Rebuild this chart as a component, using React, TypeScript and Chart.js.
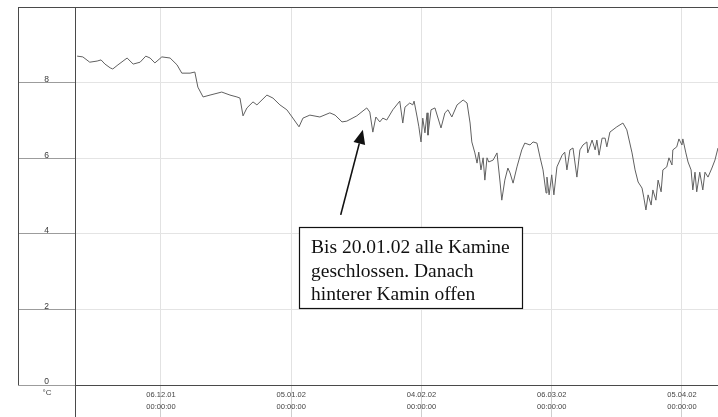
import { useEffect, useRef } from "react";
import { Chart, registerables } from "chart.js";

Chart.register(...registerables);

// Days relative to 06.12.01 00:00:00
const dayOffsets = [
  -19.3, -18.0, -16.4, -14.7, -13.8, -12.9, -11.7, -11.1, -9.9, -7.8,
  -6.4, -4.8, -3.5, -2.5, -1.4, 0.2, 2.1, 3.7, 4.8, 6.7,
  7.8, 8.5, 9.7, 11.3, 14.0, 15.9, 17.5, 18.2, 18.9, 19.8,
  21.2, 22.1, 24.4, 25.8, 27.4, 29.0, 30.2, 31.8, 32.7, 34.3,
  36.6, 38.9, 40.1, 41.7, 42.8, 45.1, 47.4, 48.1, 48.8, 49.5,
  50.4, 51.1, 52.0, 53.4, 55.0, 55.7, 56.2, 57.3, 58.0, 58.3,
  59.0, 59.4, 59.9, 60.3, 60.8, 61.3, 61.5, 62.2, 63.1, 64.5,
  65.4, 66.1, 67.0, 68.2, 69.6, 70.5, 71.2, 71.6, 72.3, 72.8,
  73.2, 73.7, 74.2, 74.6, 75.1, 75.5, 76.5, 77.4, 78.1, 78.5,
  79.2, 79.9, 80.4, 81.1, 82.0, 83.1, 83.8, 85.0, 85.7, 86.6,
  87.3, 88.0, 88.7, 88.9, 89.4, 90.0, 90.5, 91.2, 92.4, 93.0,
  93.5, 94.2, 94.9, 95.8, 96.5, 97.2, 98.1, 98.3, 99.3, 100.0,
  100.4, 100.9, 101.6, 102.3, 102.7, 103.4, 105.0, 106.4, 107.3, 108.5,
  109.2, 109.9, 110.8, 111.2, 111.7, 112.2, 112.9, 113.3, 114.0, 114.5,
  115.2, 115.6, 116.5, 117.0, 117.7, 117.9, 118.8, 119.3, 120.0, 120.2,
  120.9, 121.4, 122.1, 122.5, 123.0, 123.4, 124.1, 124.8, 125.3, 126.0,
  126.9, 127.6, 128.3,
];

// Temperature in °C
const temperatures = [
  8.70, 8.68, 8.54, 8.57, 8.60, 8.49, 8.39, 8.36, 8.47, 8.65,
  8.49, 8.54, 8.70, 8.65, 8.52, 8.68, 8.65, 8.47, 8.25, 8.25,
  8.28, 7.88, 7.62, 7.67, 7.75, 7.67, 7.62, 7.59, 7.12, 7.33,
  7.49, 7.41, 7.67, 7.59, 7.41, 7.28, 7.09, 6.83, 7.06, 7.14,
  7.09, 7.20, 7.14, 6.96, 6.98, 7.12, 7.33, 7.22, 6.69, 7.09,
  6.96, 7.06, 7.01, 7.28, 7.51, 6.93, 7.35, 7.46, 7.41, 7.51,
  7.09, 6.83, 6.43, 7.06, 6.67, 7.20, 6.61, 7.28, 7.33, 6.80,
  7.20, 7.28, 7.09, 7.41, 7.54, 7.46, 6.93, 6.43, 6.14, 5.87,
  6.16, 5.69, 6.01, 5.42, 6.01, 5.90, 5.95, 6.14, 5.37, 4.89,
  5.42, 5.74, 5.61, 5.34, 5.77, 6.22, 6.40, 6.35, 6.43, 6.40,
  6.03, 5.69, 5.08, 5.50, 5.03, 5.56, 5.03, 5.77, 6.08, 6.16,
  5.69, 6.22, 6.27, 5.50, 6.22, 6.35, 6.43, 6.14, 6.48, 6.22,
  6.48, 6.08, 6.53, 6.53, 6.30, 6.69, 6.83, 6.93, 6.75, 6.14,
  5.69, 5.37, 5.21, 4.97, 4.63, 5.03, 4.76, 5.16, 4.89, 5.42,
  5.11, 5.69, 5.77, 6.01, 5.82, 6.22, 6.30, 6.51, 6.35, 6.51,
  6.14, 5.90, 5.69, 5.16, 5.63, 5.11, 5.63, 5.16, 5.63, 5.50,
  5.74, 5.95, 6.27,
];

const tickDays = [0, 30, 60, 90, 120];
const tickDates = ["06.12.01", "05.01.02", "04.02.02", "06.03.02", "05.04.02"];
const tickTimes = ["00:00:00", "00:00:00", "00:00:00", "00:00:00", "00:00:00"];
const tempTicks = [0, 2, 4, 6, 8, 10];
const unitLabel = "°C";
const noteLines = [
  "Bis 20.01.02 alle Kamine",
  "geschlossen. Danach",
  "hinterer Kamin offen",
];

const WIDTH = 718;
const HEIGHT = 417;
const FRAME_LEFT = 18;

// Outer frame lines, the axis stub below the plot and the unit label
const framePlugin = {
  id: "frame",
  afterDraw(chart: any) {
    const { ctx, chartArea } = chart;
    ctx.save();
    ctx.strokeStyle = "#4a4a4a";
    ctx.lineWidth = 1;
    ctx.beginPath();
    ctx.moveTo(FRAME_LEFT, chartArea.top + 0.5);
    ctx.lineTo(WIDTH, chartArea.top + 0.5);
    ctx.moveTo(FRAME_LEFT + 0.5, chartArea.top);
    ctx.lineTo(FRAME_LEFT + 0.5, chartArea.bottom);
    ctx.moveTo(chartArea.left + 0.5, chartArea.bottom);
    ctx.lineTo(chartArea.left + 0.5, HEIGHT);
    ctx.stroke();
    ctx.fillStyle = "#444";
    ctx.font = "8px 'Liberation Sans'";
    ctx.textAlign = "center";
    ctx.textBaseline = "middle";
    ctx.fillText(unitLabel, (FRAME_LEFT + chartArea.left) / 2 + 0.5, chartArea.bottom + 8);
    ctx.restore();
  },
};

// Text box with an arrow pointing at the curve
const notePlugin = {
  id: "note",
  afterDraw(chart: any) {
    const { ctx } = chart;
    const xs = chart.scales.x;
    const ys = chart.scales.y;
    ctx.save();

    const boxX = 299;
    const boxY = 227;
    const boxW = 223;
    const boxH = 81;
    ctx.fillStyle = "#fff";
    ctx.fillRect(boxX, boxY, boxW, boxH);
    ctx.strokeStyle = "#111";
    ctx.lineWidth = 1.2;
    ctx.strokeRect(boxX + 0.5, boxY + 0.5, boxW, boxH);

    ctx.fillStyle = "#111";
    ctx.font = "19.5px 'Liberation Serif'";
    ctx.textAlign = "left";
    ctx.textBaseline = "alphabetic";
    noteLines.forEach((line, i) => {
      ctx.fillText(line, boxX + 12, boxY + 26 + i * 23.5);
    });

    const tipX = xs.getPixelForValue(46.5);
    const tipY = ys.getPixelForValue(6.75);
    const tailX = xs.getPixelForValue(41.4);
    const tailY = ys.getPixelForValue(4.5);
    const ang = Math.atan2(tipY - tailY, tipX - tailX);
    const headLen = 14;
    const headHalf = 6;
    const baseX = tipX - headLen * Math.cos(ang);
    const baseY = tipY - headLen * Math.sin(ang);
    ctx.strokeStyle = "#111";
    ctx.lineWidth = 1.6;
    ctx.beginPath();
    ctx.moveTo(tailX, tailY);
    ctx.lineTo(baseX, baseY);
    ctx.stroke();
    ctx.beginPath();
    ctx.moveTo(tipX, tipY);
    ctx.lineTo(baseX + headHalf * Math.sin(ang), baseY - headHalf * Math.cos(ang));
    ctx.lineTo(baseX - headHalf * Math.sin(ang), baseY + headHalf * Math.cos(ang));
    ctx.closePath();
    ctx.fill();
    ctx.restore();
  },
};

export default function App() {
  const canvasRef = useRef<HTMLCanvasElement | null>(null);

  useEffect(() => {
    const canvas = canvasRef.current;
    if (!canvas) return;
    const points = dayOffsets.map((d, i) => ({ x: d, y: temperatures[i] }));
    const chart = new Chart(canvas, {
      type: "line",
      data: {
        datasets: [
          {
            data: points,
            borderColor: "#606060",
            borderWidth: 1,
            pointRadius: 0,
            tension: 0,
            fill: false,
          },
        ],
      },
      options: {
        animation: false,
        responsive: false,
        maintainAspectRatio: false,
        layout: { padding: { left: FRAME_LEFT, top: 7, right: 0, bottom: 0 } },
        plugins: {
          legend: { display: false },
          tooltip: { enabled: false },
          title: { display: false },
        },
        scales: {
          x: {
            type: "linear",
            min: -19.8,
            max: 128.3,
            afterBuildTicks: (scale: any) => {
              scale.ticks = tickDays.map((v) => ({ value: v }));
            },
            afterFit: (scale: any) => {
              scale.height = 32;
            },
            grid: {
              color: "#e2e2e2",
              tickColor: "#cfcfcf",
              tickLength: 32,
              lineWidth: 1,
            },
            border: { color: "#4a4a4a", width: 1 },
            ticks: {
              padding: -28,
              autoSkip: false,
              maxRotation: 0,
              minRotation: 0,
              color: "#444",
              font: { family: "'Liberation Sans'", size: 7.5, lineHeight: 1.6 },
              callback: (value: any) => {
                const i = tickDays.indexOf(Number(value));
                return i < 0 ? null : [tickDates[i], tickTimes[i]];
              },
            },
          },
          y: {
            type: "linear",
            min: 0,
            max: 10,
            afterBuildTicks: (scale: any) => {
              scale.ticks = tempTicks.map((v) => ({ value: v }));
            },
            afterFit: (scale: any) => {
              scale.width = 57;
            },
            grid: {
              color: "#e4e4e4",
              tickColor: "#9c9c9c",
              tickLength: 57,
              lineWidth: 1,
            },
            border: { color: "#4a4a4a", width: 1 },
            ticks: {
              padding: -31,
              labelOffset: -3,
              color: "#3a3a3a",
              font: { family: "'Liberation Sans'", size: 8.5 },
              callback: (value: any) => (Number(value) === 10 ? null : String(value)),
            },
          },
        },
      },
      plugins: [framePlugin, notePlugin],
    });
    return () => chart.destroy();
  }, []);

  return (
    <div
      style={{
        position: "fixed",
        left: 0,
        top: 0,
        width: WIDTH,
        height: HEIGHT,
        background: "#fff",
      }}
    >
      <canvas ref={canvasRef} width={WIDTH} height={HEIGHT} style={{ display: "block" }} />
    </div>
  );
}
